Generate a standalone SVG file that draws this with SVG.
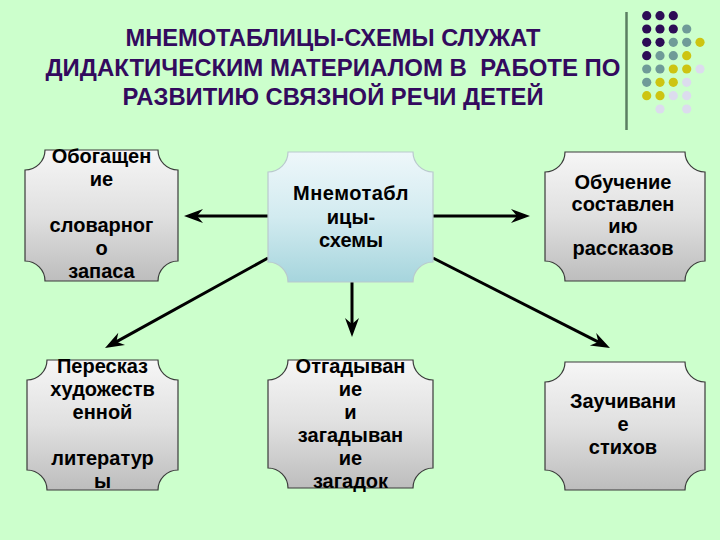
<svg xmlns="http://www.w3.org/2000/svg" width="720" height="540" viewBox="0 0 720 540">
  <defs>
    <linearGradient id="gGrey" x1="0" y1="0" x2="0" y2="1">
      <stop offset="0" stop-color="#f6f6f6"/>
      <stop offset="0.5" stop-color="#e0e0e0"/>
      <stop offset="1" stop-color="#bdbdbd"/>
    </linearGradient>
    <linearGradient id="gBlue" x1="0" y1="0" x2="0" y2="1">
      <stop offset="0" stop-color="#eef7fa"/>
      <stop offset="0.5" stop-color="#d2ebf0"/>
      <stop offset="1" stop-color="#a6d5dd"/>
    </linearGradient>
    <marker id="ah" viewBox="-20 -8 22 16" refX="-5" refY="0" markerWidth="22" markerHeight="16" orient="auto" markerUnits="userSpaceOnUse">
      <path d="M0,0 L-19,-7 L-13,0 L-19,7 Z" fill="#000"/>
    </marker>
    <style>
      .title { font-family: "Liberation Sans", Arial, sans-serif; font-weight: bold; font-size: 24px; fill: #330a5e; text-anchor: middle; }
      .grey { fill: url(#gGrey); stroke: #3a3a3a; stroke-width: 1.2; }
      .blue { fill: url(#gBlue); stroke: #b9c9cd; stroke-width: 1.2; }
      .lbl { font-family: "Liberation Sans", Arial, sans-serif; font-weight: bold; font-size: 20px; fill: #000; text-anchor: middle; }
      .conn { stroke: #000; stroke-width: 3; fill: none; marker-end: url(#ah); }
      .p { fill: #2d0c56; } .t { fill: #6f9b98; } .y { fill: #cdc412; } .l { fill: #dcdcee; }
    </style>
  </defs>
  <rect width="720" height="540" fill="#ccffcc"/>

  <g id="title">
    <text class="title" x="333" y="46" textLength="415" lengthAdjust="spacingAndGlyphs">МНЕМОТАБЛИЦЫ-СХЕМЫ СЛУЖАТ</text>
    <text class="title" x="333" y="76" textLength="575" lengthAdjust="spacingAndGlyphs" xml:space="preserve">ДИДАКТИЧЕСКИМ МАТЕРИАЛОМ В  РАБОТЕ ПО</text>
    <text class="title" x="333" y="105" textLength="421" lengthAdjust="spacingAndGlyphs">РАЗВИТИЮ СВЯЗНОЙ РЕЧИ ДЕТЕЙ</text>
  </g>

  <g id="decor">
    <line x1="626.5" y1="12" x2="626.5" y2="130" stroke="#5b7f62" stroke-width="2.5"/>
    <circle class="p" cx="646.7" cy="15.7" r="4.6"/><circle class="p" cx="660" cy="15.7" r="4.6"/><circle class="p" cx="673.3" cy="15.7" r="4.6"/>
    <circle class="p" cx="646.7" cy="29" r="4.6"/><circle class="p" cx="660" cy="29" r="4.6"/><circle class="p" cx="673.3" cy="29" r="4.6"/><circle class="t" cx="686.7" cy="29" r="4.6"/>
    <circle class="p" cx="646.7" cy="42.3" r="4.6"/><circle class="p" cx="660" cy="42.3" r="4.6"/><circle class="t" cx="673.3" cy="42.3" r="4.6"/><circle class="t" cx="686.7" cy="42.3" r="4.6"/><circle class="y" cx="700" cy="42.3" r="4.6"/>
    <circle class="p" cx="646.7" cy="55.7" r="4.6"/><circle class="t" cx="660" cy="55.7" r="4.6"/><circle class="t" cx="673.3" cy="55.7" r="4.6"/><circle class="y" cx="686.7" cy="55.7" r="4.6"/>
    <circle class="t" cx="646.7" cy="69" r="4.6"/><circle class="t" cx="660" cy="69" r="4.6"/><circle class="y" cx="673.3" cy="69" r="4.6"/><circle class="y" cx="686.7" cy="69" r="4.6"/><circle class="l" cx="700" cy="69" r="4.6"/>
    <circle class="t" cx="646.7" cy="82.3" r="4.6"/><circle class="y" cx="660" cy="82.3" r="4.6"/><circle class="y" cx="673.3" cy="82.3" r="4.6"/><circle class="l" cx="686.7" cy="82.3" r="4.6"/>
    <circle class="y" cx="646.7" cy="95.7" r="4.6"/><circle class="y" cx="660" cy="95.7" r="4.6"/><circle class="l" cx="673.3" cy="95.7" r="4.6"/><circle class="l" cx="686.7" cy="95.7" r="4.6"/>
    <circle class="l" cx="660" cy="109" r="4.6"/><circle class="l" cx="686.7" cy="109" r="4.6"/>
  </g>

  <g id="connectors">
    <line class="conn" x1="268" y1="216" x2="189" y2="216"/>
    <line class="conn" x1="433" y1="216" x2="525" y2="216"/>
    <line class="conn" x1="268" y1="258" x2="109.4" y2="345.6"/>
    <line class="conn" x1="352" y1="282" x2="352" y2="332"/>
    <line class="conn" x1="433" y1="258" x2="605.5" y2="345.7"/>
  </g>

  <g id="n-center">
    <path class="blue" d="M288,152 H413 A20,20 0 0 0 433,172 V262 A20,20 0 0 0 413,282 H288 A20,20 0 0 0 268,262 V172 A20,20 0 0 0 288,152 Z"/>
    <text class="lbl" x="351" y="200" letter-spacing="0.5">Мнемотабл</text>
    <text class="lbl" x="351" y="223.5">ицы-</text>
    <text class="lbl" x="351" y="247">схемы</text>
  </g>

  <g id="n-vocab">
    <path class="grey" d="M45,150 H158 A20,20 0 0 0 178,170 V261 A20,20 0 0 0 158,281 H45 A20,20 0 0 0 25,261 V170 A20,20 0 0 0 45,150 Z"/>
    <text class="lbl" x="101.5" y="163">Обогащен</text>
    <text class="lbl" x="101.5" y="186">ие</text>
    <text class="lbl" x="101.5" y="232">словарног</text>
    <text class="lbl" x="101.5" y="255">о</text>
    <text class="lbl" x="101.5" y="278">запаса</text>
  </g>

  <g id="n-stories">
    <path class="grey" d="M565,152 H685 A20,20 0 0 0 705,172 V261 A20,20 0 0 0 685,281 H565 A20,20 0 0 0 545,261 V172 A20,20 0 0 0 565,152 Z"/>
    <text class="lbl" x="623" y="189">Обучение</text>
    <text class="lbl" x="623" y="211">составлен</text>
    <text class="lbl" x="623" y="233">ию</text>
    <text class="lbl" x="623" y="255">рассказов</text>
  </g>

  <g id="n-retell">
    <path class="grey" d="M47,360 H158 A20,20 0 0 0 178,380 V470 A20,20 0 0 0 158,490 H47 A20,20 0 0 0 27,470 V380 A20,20 0 0 0 47,360 Z"/>
    <text class="lbl" x="102.5" y="373">Пересказ</text>
    <text class="lbl" x="102.5" y="396">художеств</text>
    <text class="lbl" x="102.5" y="419">енной</text>
    <text class="lbl" x="102.5" y="465">литератур</text>
    <text class="lbl" x="102.5" y="488">ы</text>
  </g>

  <g id="n-riddles">
    <path class="grey" d="M288,360 H413 A20,20 0 0 0 433,380 V468 A20,20 0 0 0 413,488 H288 A20,20 0 0 0 268,468 V380 A20,20 0 0 0 288,360 Z"/>
    <text class="lbl" x="350.5" y="373">Отгадыван</text>
    <text class="lbl" x="350.5" y="396">ие</text>
    <text class="lbl" x="350.5" y="419">и</text>
    <text class="lbl" x="350.5" y="442">загадыван</text>
    <text class="lbl" x="350.5" y="465">ие</text>
    <text class="lbl" x="350.5" y="488">загадок</text>
  </g>

  <g id="n-poems">
    <path class="grey" d="M565,362 H685 A20,20 0 0 0 705,382 V470 A20,20 0 0 0 685,490 H565 A20,20 0 0 0 545,470 V382 A20,20 0 0 0 565,362 Z"/>
    <text class="lbl" x="623" y="408">Заучивани</text>
    <text class="lbl" x="623" y="431">е</text>
    <text class="lbl" x="623" y="454">стихов</text>
  </g>
</svg>
